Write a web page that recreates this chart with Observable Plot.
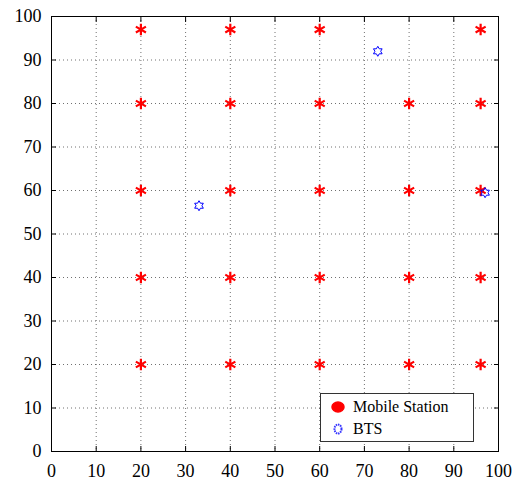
<!DOCTYPE html>
<html>
<head>
<meta charset="utf-8">
<script src="https://cdn.jsdelivr.net/npm/d3@7"></script>
<script src="https://cdn.jsdelivr.net/npm/@observablehq/plot@0.6"></script>
<style>
  * { font-family: 'Liberation Serif' !important; }
</style>
</head>
<body style="margin:0;padding:0;background:#fff">
<div id="wrap" style="position:relative;width:516px;height:483px"></div>
<script>
const msX = [20, 40, 60, 96, 20, 40, 60, 80, 96, 20, 40, 60, 80, 96, 20, 40, 60, 80, 96, 20, 40, 60, 80, 96];
const msY = [97, 97, 97, 97, 80, 80, 80, 80, 80, 60, 60, 60, 60, 60, 40, 40, 40, 40, 40, 20, 20, 20, 20, 20];
const btsX = [73, 33, 97];
const btsY = [92, 56.5, 59.5];
const tickValues = [0, 10, 20, 30, 40, 50, 60, 70, 80, 90, 100];
const legendLabels = ["Mobile Station", "BTS"];

const mobile = msX.map((x, i) => ({x, y: msY[i]}));
const bts = btsX.map((x, i) => ({x, y: btsY[i]}));

const hexagram = {
  draw(ctx, size) {
    const R = Math.sqrt(size / Math.PI) * 1.25;
    const r = R / Math.sqrt(3);
    for (let k = 0; k < 12; k++) {
      const a = -Math.PI / 2 + k * Math.PI / 6;
      const rr = k % 2 === 0 ? R : r;
      const px = rr * Math.cos(a), py = rr * Math.sin(a);
      if (k === 0) ctx.moveTo(px, py); else ctx.lineTo(px, py);
    }
    ctx.closePath();
  }
};

const chart = Plot.plot({
  width: 516,
  height: 483,
  marginLeft: 51,
  marginRight: 18,
  marginTop: 16,
  marginBottom: 32,
  style: {fontSize: "18px", color: "#000", background: "#fff"},
  x: {domain: [0, 100], ticks: tickValues},
  y: {domain: [0, 100], ticks: tickValues},
  marks: [
    Plot.gridX(tickValues, {stroke: "#333", strokeOpacity: 0.7, strokeDasharray: "1,3"}),
    Plot.gridY(tickValues, {stroke: "#333", strokeOpacity: 0.7, strokeDasharray: "1,3"}),
    Plot.axisX({ticks: tickValues, anchor: "bottom", tickSize: -5, tickPadding: 18, label: null, fontSize: 18}),
    Plot.axisX({ticks: tickValues, anchor: "top", tickSize: -5, tickFormat: () => "", label: null}),
    Plot.axisY({ticks: tickValues, anchor: "left", tickSize: -5, tickPadding: 15, label: null, fontSize: 18}),
    Plot.axisY({ticks: tickValues, anchor: "right", tickSize: -5, tickFormat: () => "", label: null}),
    Plot.frame({stroke: "#000"}),
    Plot.dot(mobile, {x: "x", y: "y", symbol: "asterisk", r: 5.5, stroke: "#ff0000", strokeWidth: 2.2}),
    Plot.dot(bts, {x: "x", y: "y", symbol: hexagram, r: 4, stroke: "#0000ff", strokeWidth: 1, fill: "none"})
  ]
});
chart.style.setProperty("font-family", "'Liberation Serif'", "important");
chart.querySelectorAll("text, tspan").forEach(t => {
  t.setAttribute("font-family", "Liberation Serif");
  t.style.setProperty("font-family", "'Liberation Serif'", "important");
});
const wrap = document.getElementById("wrap");
wrap.appendChild(chart);

const legend = document.createElement("div");
legend.setAttribute("style", "position:absolute;left:320px;top:393px;width:154px;height:49px;border:1px solid #333;background:#fff;box-sizing:border-box;font-size:16px;color:#000");
const rowStyle = "position:absolute;left:0;height:20px;display:flex;align-items:center";
const svgStyle = "margin-left:10px;margin-right:8px";
legend.innerHTML = `
  <div style="${rowStyle};top:3px"><svg style="${svgStyle}" width="14" height="14" viewBox="-7 -7 14 14"><ellipse cx="0" cy="0" rx="6" ry="5" fill="#ff0000" stroke="#ff0000" stroke-width="1.5"/></svg><span>${legendLabels[0]}</span></div>
  <div style="${rowStyle};top:25px"><svg style="${svgStyle}" width="14" height="14" viewBox="-7 -7 14 14"><ellipse cx="0" cy="0" rx="3.5" ry="4.5" fill="none" stroke="#3333ff" stroke-width="2" stroke-dasharray="1.5,0.8"/></svg><span>${legendLabels[1]}</span></div>`;
legend.querySelectorAll("span, div").forEach(el => el.style.setProperty("font-family", "'Liberation Serif'", "important"));
wrap.appendChild(legend);
</script>
</body>
</html>
